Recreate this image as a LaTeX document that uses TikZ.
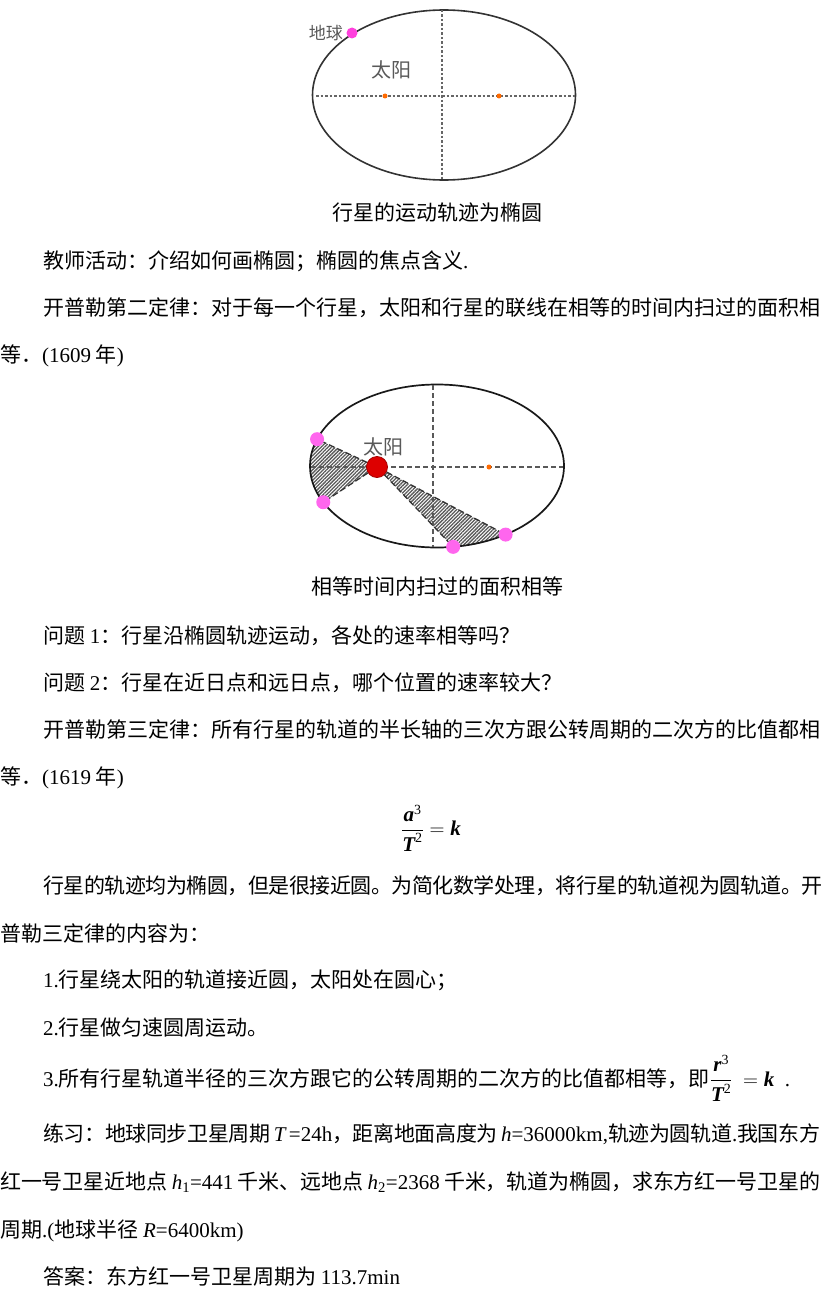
\documentclass[tikz,border=0pt]{standalone}
\usepackage{fontspec}
\usepackage{amsmath}
\setmainfont{Noto Sans CJK SC}
\newfontfamily\latf{Liberation Serif}
\usetikzlibrary{patterns.meta,calc}
\newXeTeXintercharclass\cjkcls
\count255="4E00
\loop\ifnum\count255<"A000
  \XeTeXcharclass\count255=\cjkcls
  \advance\count255 by 1
\repeat
\XeTeXcharclass"FF0C=\cjkcls
\XeTeXcharclass"FF1A=\cjkcls
\XeTeXcharclass"FF1B=\cjkcls
\XeTeXcharclass"FF1F=\cjkcls
\XeTeXcharclass"FF0E=\cjkcls
\XeTeXcharclass"3001=\cjkcls
\XeTeXcharclass"3002=\cjkcls
\XeTeXinterchartoks\cjkcls\cjkcls={\hskip0pt plus 1fil minus 0.5pt\relax}
\XeTeXinterchartokenstate=1
\newcommand\lx[1]{{\latf #1}}
\newcommand\lv[1]{{\latf\itshape #1}}
\newcommand\lb[1]{{\latf\bfseries\itshape #1}}
\newcommand\sups[1]{{\latf\fontsize{14}{14}\selectfont #1}}
\definecolor{pinkA}{HTML}{FF40DD}
\definecolor{pinkB}{HTML}{FF66EE}
\definecolor{focusor}{HTML}{FF6A00}
\definecolor{sunred}{HTML}{DD0000}
\begin{document}
\begin{tikzpicture}[x=1pt,y=-1pt,
  txt/.style={anchor=base west,inner sep=0pt,font=\fontsize{21}{21}\selectfont},
  ctr/.style={anchor=base,inner sep=0pt,font=\fontsize{21}{21}\selectfont},
  orbit/.style={draw=black!80,line width=1.6pt},
  axisA/.style={draw=black!60,line width=1.1pt,dash pattern=on 2.5pt off 2pt},
  axisB/.style={draw=black!65,line width=1.1pt,dash pattern=on 5pt off 3pt},
  sweep/.style={draw=black!80,line width=1.3pt,dash pattern=on 6pt off 3pt},
  planet/.style={circle,fill=pinkB,inner sep=0pt,minimum size=14pt},
  focus/.style={circle,fill=focusor,inner sep=0pt,minimum size=5pt},
  lbl/.style={inner sep=0pt,text=black!65},
  hatch/.style={pattern={Lines[angle=45,distance=2.5pt,line width=1.3pt]},pattern color=black!65},
]
\useasboundingbox (0,0) rectangle (831,1295);
\fill[white] (0,0) rectangle (831,1295);

% ---------- diagram 1 ----------
\coordinate (c1) at (444,95);
\draw[orbit] (c1) ellipse [x radius=131.5, y radius=85];
\coordinate (h1l) at (316,96);
\coordinate (h1r) at (576,96);
\coordinate (v1t) at (442,10);
\coordinate (v1b) at (442,180);
\draw[axisA] (h1l) -- (h1r);
\draw[axisA] (v1t) -- (v1b);
\node[focus] (f1a) at (385,96) {};
\node[focus] (f1b) at (499,96) {};
\node[planet,minimum size=11pt,fill=pinkA] (earth) at (352,33) {};
\node[lbl,anchor=east,font=\fontsize{17}{17}\selectfont] (earthlbl) at (343,33) {地球};
\node[lbl,font=\fontsize{20}{20}\selectfont] (sunlbl1) at (391,70) {太阳};

% ---------- diagram 2 ----------
\coordinate (c2) at (437,466);
\coordinate (sc) at (377,467);
\coordinate (p1) at ($(c2)+(199.2:127 and 81.5)$);
\coordinate (p2) at ($(c2)+(153.6:127 and 81.5)$);
\coordinate (p3) at ($(c2)+(82.7:127 and 81.5)$);
\coordinate (p4) at ($(c2)+(57.3:127 and 81.5)$);
\fill[hatch] (sc) -- (p1) arc[start angle=199.2, end angle=153.6, x radius=127, y radius=81.5] -- cycle;
\fill[hatch] (sc) -- (p3) arc[start angle=82.7, end angle=57.3, x radius=127, y radius=81.5] -- cycle;
\draw[orbit,draw=black!90,line width=1.7pt] (c2) ellipse [x radius=127, y radius=81.5];
\coordinate (h2l) at (311,467);
\coordinate (h2r) at (563,467);
\coordinate (v2t) at (433,385);
\coordinate (v2b) at (433,547);
\draw[axisB] (h2l) -- (h2r);
\draw[axisB] (v2t) -- (v2b);
\node[circle,fill=sunred,draw=sunred!75!black,line width=0.8pt,inner sep=0pt,minimum size=21pt] (sun) at (sc) {};
\node[focus] (f2) at (489,467) {};
\node[planet] (P1) at (p1) {};
\node[planet] (P2) at (p2) {};
\node[planet] (P3) at (p3) {};
\node[planet] (P4) at (p4) {};
\draw[sweep] (sun) -- (P1);
\draw[sweep] (sun) -- (P2);
\draw[sweep] (sun) -- (P3);
\draw[sweep] (sun) -- (P4);
\node[lbl,font=\fontsize{20}{20}\selectfont] (sunlbl2) at (383,447) {太阳};

% ---------- text ----------
\node[ctr] (cap1) at (437,220) {行星的运动轨迹为椭圆};
\node[txt] (t1) at (43,268) {教师活动：介绍如何画椭圆；椭圆的焦点含义\lx{.}};
\node[txt] (t2) at (43,315) {\makebox[777pt][s]{开普勒第二定律：对于每一个行星，太阳和行星的联线在相等的时间内扫过的面积相}};
\node[txt] (t3) at (0,362) {等．\lx{(1609} 年\lx{)}};
\node[ctr] (cap2) at (437,594) {相等时间内扫过的面积相等};
\node[txt] (t4) at (43,643) {问题 \lx{1}：行星沿椭圆轨迹运动，各处的速率相等吗？};
\node[txt] (t5) at (43,690) {问题 \lx{2}：行星在近日点和远日点，哪个位置的速率较大？};
\node[txt] (t6) at (43,737) {\makebox[777pt][s]{开普勒第三定律：所有行星的轨道的半长轴的三次方跟公转周期的二次方的比值都相}};
\node[txt] (t7) at (0,784) {等．\lx{(1619} 年\lx{)}};
\node[inner sep=0pt,font=\fontsize{21}{21}\selectfont] (law3) at (431,828)
  {$\dfrac{\mbox{\lb{a}}^{\mbox{\sups{3}}}}{\mbox{\lb{T}}^{\mbox{\sups{2}}}}=\mbox{\lb{k}}$};
\node[txt] (t8) at (43,893) {\makebox[777pt][s]{行星的轨迹均为椭圆，但是很接近圆。为简化数学处理，将行星的轨道视为圆轨道。开}};
\node[txt] (t9) at (0,941) {普勒三定律的内容为：};
\node[txt] (t10) at (43,987) {\lx{1.}行星绕太阳的轨道接近圆，太阳处在圆心；};
\node[txt] (t11) at (43,1035) {\lx{2.}行星做匀速圆周运动。};
\node[txt] (t12) at (43,1086) {\lx{3.}所有行星轨道半径的三次方跟它的公转周期的二次方的比值都相等，即$\dfrac{\mbox{\lb{r}}^{\mbox{\sups{3}}}}{\mbox{\lb{T}}^{\mbox{\sups{2}}}}\ =\mbox{\lb{k}}$\lx{\ \ .}};
\node[txt] (t13) at (43,1141) {\makebox[777pt][s]{练习：地球同步卫星周期 \lv{T}\lx{\,=24h}，距离地面高度为 \lv{h}\lx{=36000km,}轨迹为圆轨道\lx{.}我国东方}};
\node[txt] (t14) at (0,1189) {\makebox[820pt][s]{红一号卫星近地点 \lv{h}\lx{\textsubscript{1}=441} 千米、远地点 \lv{h}\lx{\textsubscript{2}=2368} 千米，轨道为椭圆，求东方红一号卫星的}};
\node[txt] (t15) at (0,1237) {周期\lx{.(}地球半径 \lv{R}\lx{=6400km)}};
\node[txt] (t16) at (43,1284) {答案：东方红一号卫星周期为 \lx{113.7min}};
\end{tikzpicture}
\end{document}
